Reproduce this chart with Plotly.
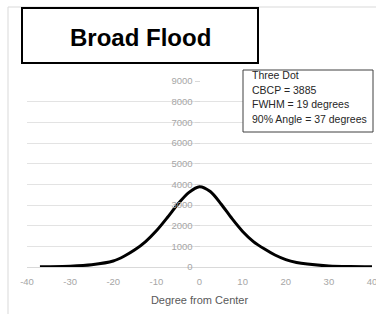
import plotly.graph_objects as go

degrees = [-37, -35, -30, -25, -20, -17.5, -15, -12.5, -10, -7.5, -5, -2.5, 0,
           2.5, 5, 7.5, 10, 12.5, 15, 17.5, 20, 22.5, 25, 30, 35, 40]
intensity = [10, 15, 40, 110, 290, 520, 830, 1230, 1750, 2380, 3050, 3600, 3885,
             3650, 3050, 2350, 1720, 1230, 880, 580, 360, 220, 140, 50, 20, 10]
x_ticks = [-40, -30, -20, -10, 0, 10, 20, 30, 40]
x_tick_labels = ["-40", "-30", "-20", "-10", "0", "10", "20", "30", "40"]
y_ticks = [0, 1000, 2000, 3000, 4000, 5000, 6000, 7000, 8000, 9000]

title_text = "Broad Flood"
info_lines = ["Three Dot", "CBCP = 3885", "FWHM = 19 degrees", "90% Angle = 37 degrees"]
x_title = "Degree from Center"

W, H = 376, 314
L, R, T, B = 27, 4, 81, 47
PW, PH = W - L - R, H - T - B

def px(x):
    return (x - L) / PW

def py(y):
    return (H - B - y) / PH

fig = go.Figure()
fig.add_trace(go.Scatter(x=degrees, y=intensity, mode="lines",
                         line=dict(color="black", width=3, shape="spline", smoothing=0.8),
                         showlegend=False, hoverinfo="skip"))

fig.update_layout(
    width=W, height=H,
    margin=dict(l=L, r=R, t=T, b=B),
    paper_bgcolor="white", plot_bgcolor="white",
    font=dict(family="Liberation Sans", color="#595959"),
    xaxis=dict(range=[-40, 40], tickvals=x_ticks, ticktext=x_tick_labels,
               showgrid=False, zeroline=False,
               showline=True, linecolor="#d9d9d9", linewidth=1, automargin=False,
               ticklabeloverflow="allow",
               tickfont=dict(size=9.5, color="#a6a6a6"), ticks="outside", ticklen=6,
               tickcolor="rgba(0,0,0,0)",
               title=dict(text=x_title, font=dict(size=11, color="#595959"), standoff=9)),
    yaxis=dict(range=[0, 9000], tickvals=y_ticks, showgrid=True, gridcolor="#e3e3e3",
               gridwidth=1, zeroline=False, showline=False, anchor="free", position=0.5,
               ticks="outside", ticklen=5, tickcolor="#d9d9d9", automargin=False,
               ticklabeloverflow="allow",
               tickfont=dict(size=9.5, color="#a6a6a6")),
)

# outer chart border
fig.add_shape(type="rect", xref="paper", yref="paper",
              x0=px(8), x1=px(382), y0=py(7), y1=py(320),
              line=dict(color="#d9d9d9", width=1), layer="below")
# title box
fig.add_shape(type="rect", xref="paper", yref="paper",
              x0=px(22), x1=px(258), y0=py(8), y1=py(63),
              line=dict(color="black", width=2), fillcolor="white")
fig.add_annotation(xref="paper", yref="paper", x=px(140), y=py(37),
                   text="<b>%s</b>" % title_text, showarrow=False,
                   font=dict(size=24, color="black", family="Liberation Sans"),
                   xanchor="center", yanchor="middle")
# info box
fig.add_shape(type="rect", xref="paper", yref="paper",
              x0=px(243), x1=px(373), y0=py(70), y1=py(132),
              line=dict(color="#404040", width=1), fillcolor="white")
for i, line in enumerate(info_lines):
    fig.add_annotation(xref="paper", yref="paper", x=px(250), y=py(75 + i * 14.5),
                       text=line, showarrow=False, xanchor="left", yanchor="middle",
                       font=dict(size=10.5, color="#262626", family="Liberation Sans"))

fig.write_html("out.html", config={"displayModeBar": False},
               post_script="document.body.style.margin='0';")
